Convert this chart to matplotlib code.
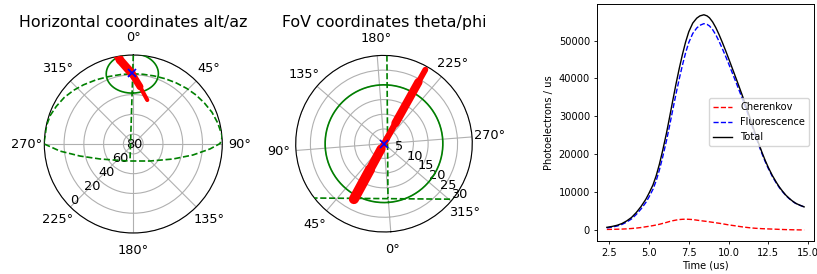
import numpy as np
import matplotlib
matplotlib.use("Agg")
import matplotlib.pyplot as plt
from matplotlib.ticker import MultipleLocator

# ---- horizontal coordinates (az deg, alt deg) ----
POINT_AZ = 359.2
POINT_ALT = 18.5
FOV_RADIUS = 20.0

TRACK_AZ = [349.7, 351.0, 358.7, 6.7, 17.6]
TRACK_ALT = [-2.5, 4.0, 18.5, 31.7, 43.3]

VERT_AZ = [0.0, 191.0]
VERT_ALT = [0.0, 72.5]

# camera edge projected on the sky: lower arc W->E, then upper arc E->W
EDGE_AZ = [270.0, 264.5, 257.3, 245.8, 218.9, 191.0, 135.5, 110.7, 100.4, 93.7,
           89.7, 86.0, 84.0, 76.0, 68.0, 60.0, 52.0, 44.0, 35.0, 26.0, 17.0,
           8.0, 0.0, 350.0, 340.0, 330.0, 320.0, 312.0, 304.0, 296.0, 289.0,
           282.0, 272.0, 270.0]
EDGE_ALT = [0.0, 15.5, 34.7, 53.1, 68.6, 72.5, 65.9, 47.1, 28.6, 12.3,
            2.3, 0.0, 0.0, 2.0, 4.2, 7.0, 9.5, 12.0, 14.5, 16.5, 18.0,
            18.8, 19.0, 18.6, 17.4, 15.0, 11.8, 8.8, 5.8, 3.3, 1.2,
            0.3, 0.0, 0.0]

# ---- FoV coordinates (phi deg, theta deg) ----
FOV_TRACK_PHI = [32.9, 32.9, 32.9, 213.6, 213.6, 213.6, 213.6]
FOV_TRACK_THETA = [21.4, 10.0, 2.0, 2.0, 8.0, 24.0, 28.8]
FOV_VERT_PHI = [186.3, 0.2]
FOV_VERT_THETA = [30.0, 18.5]
FOV_HORIZ_PHI = [57.6, 312.6]
FOV_HORIZ_THETA = [30.8, 30.5]

# ---- light curve ----
TIME = [2.35, 2.7, 3.0, 3.3, 3.6, 3.9, 4.2, 4.5, 4.8, 5.0, 5.25, 5.45, 5.65,
        5.85, 6.1, 6.3, 6.5, 6.7, 6.9, 7.1, 7.3, 7.5, 7.75, 8.0, 8.2, 8.45,
        8.65, 8.8, 9.0, 9.2, 9.4, 9.6, 9.8, 10.0, 10.25, 10.5, 10.7, 10.9,
        11.1, 11.3, 11.5, 11.7, 11.9, 12.1, 12.3, 12.5, 12.75, 13.0, 13.2,
        13.4, 13.6, 13.8, 14.0, 14.2, 14.45, 14.75]
CHERENKOV = [150, 170, 200, 240, 300, 390, 500, 650, 850, 980, 1150, 1320,
             1500, 1720, 2000, 2250, 2450, 2620, 2750, 2820, 2850, 2820, 2750,
             2600, 2480, 2350, 2250, 2150, 2030, 1900, 1780, 1650, 1500, 1350,
             1200, 1050, 920, 800, 700, 600, 520, 450, 400, 350, 310, 280, 240,
             200, 160, 130, 100, 80, 60, 40, 25, 10]
FLUORESCENCE = [550, 780, 1050, 1460, 2100, 2910, 4100, 5550, 7250, 8720,
                10750, 12980, 15800, 19080, 23600, 27650, 31850, 35980, 39850,
                43480, 46750, 49480, 51850, 53300, 54020, 54450, 54250, 53850,
                52870, 51500, 49820, 47950, 46000, 43950, 41300, 38650, 36480,
                34300, 32000, 29600, 27180, 24750, 22400, 20150, 18090, 16220,
                14160, 12400, 11140, 10070, 9100, 8320, 7640, 7060, 6575, 6090]

TRACK_LW = [6.0, 6.0, 5.0, 3.0]
FOV_TRACK_LW = [7.3, 6.5, 4.5, 4.5, 6.0, 4.2]


def sky_circle(az0, alt0, radius):
    psi = np.deg2rad(np.arange(0, 361, 2))
    d0, rho = np.deg2rad(alt0), np.deg2rad(radius)
    sin_alt = np.sin(d0) * np.cos(rho) + np.cos(d0) * np.sin(rho) * np.cos(psi)
    daz = np.arctan2(np.sin(psi) * np.sin(rho) * np.cos(d0),
                     np.cos(rho) - np.sin(d0) * sin_alt)
    return np.deg2rad(az0) + daz, np.rad2deg(np.arcsin(sin_alt))


def draw_track(ax, th, r, widths):
    for i, lw in enumerate(widths):
        ax.plot(th[i:i + 2], r[i:i + 2], color="red", lw=lw,
                solid_capstyle="round", zorder=4)


fig = plt.figure(figsize=(8.17, 2.74), dpi=100)

# horizontal coordinates
ax1 = fig.add_axes([0.0542, 0.1496, 0.2179, 0.6496], projection="polar")
ax1.set_theta_zero_location("N")
ax1.set_theta_direction(-1)
ax1.set_rlim(90, 0)
ax1.set_rticks([0, 20, 40, 60, 80])
ax1.set_rlabel_position(225)
cth, calt = sky_circle(POINT_AZ, POINT_ALT, FOV_RADIUS)
ax1.plot(cth, calt, color="green", lw=1.2, zorder=3)
ax1.plot(np.deg2rad(VERT_AZ), VERT_ALT, "--", color="green", lw=1.2, zorder=3)
ax1.plot(np.deg2rad(EDGE_AZ), EDGE_ALT, "--", color="green", lw=1.2, zorder=3)
draw_track(ax1, np.deg2rad(TRACK_AZ), TRACK_ALT, TRACK_LW)
ax1.plot(np.deg2rad(POINT_AZ), POINT_ALT, "x", color="blue", ms=6, mew=1.2, zorder=5)
ax1.tick_params(axis="x", labelsize=9.3, pad=2.1)
ax1.tick_params(axis="y", labelsize=9.3)
ax1.set_title("Horizontal coordinates alt/az", fontsize=11.4, y=1.155, pad=0)

# FoV coordinates
ax2 = fig.add_axes([0.3619, 0.1533, 0.2162, 0.6445], projection="polar")
ax2.set_theta_offset(np.deg2rad(-85.6))
ax2.set_theta_direction(-1)
ax2.set_rlim(0, 30)
ax2.set_rticks([5, 10, 15, 20, 25, 30])
ax2.set_rlabel_position(315)
ring = np.deg2rad(np.arange(0, 361, 2))
ax2.plot(ring, np.full(ring.size, FOV_RADIUS), color="green", lw=1.2, zorder=3)
ax2.plot(np.deg2rad(FOV_VERT_PHI), FOV_VERT_THETA, "--", color="green", lw=1.2, zorder=3)
ax2.plot(np.deg2rad(FOV_HORIZ_PHI), FOV_HORIZ_THETA, "--", color="green", lw=1.2, zorder=3)
draw_track(ax2, np.deg2rad(FOV_TRACK_PHI), FOV_TRACK_THETA, FOV_TRACK_LW)
ax2.plot(0, 0, "x", color="blue", ms=6, mew=1.2, zorder=5)
ax2.tick_params(axis="x", labelsize=9.3, pad=2.1)
ax2.tick_params(axis="y", labelsize=9.3)
ax2.set_title("FoV coordinates theta/phi", fontsize=11.4, y=1.16, pad=0)

# light curve
ax3 = fig.add_axes([0.7307, 0.1215, 0.2656, 0.8639])
t = np.array(TIME)
che = np.array(CHERENKOV)
flu = np.array(FLUORESCENCE)
ax3.plot(t, che, "r--", lw=1.0, label="Cherenkov")
ax3.plot(t, flu, "b--", lw=1.0, label="Fluorescence")
ax3.plot(t, che + flu, "k-", lw=1.0, label="Total")
ax3.xaxis.set_major_locator(MultipleLocator(2.5))
ax3.set_xlabel("Time (us)", fontsize=7.1, labelpad=2)
ax3.set_ylabel("Photoelectrons / us", fontsize=7.1, labelpad=3)
ax3.tick_params(labelsize=7.1, length=2.5, width=0.6, pad=2.5)
for sp in ax3.spines.values():
    sp.set_linewidth(0.7)
ax3.legend(loc="center right", fontsize=7.1)

fig.savefig("out.png", dpi=100)
